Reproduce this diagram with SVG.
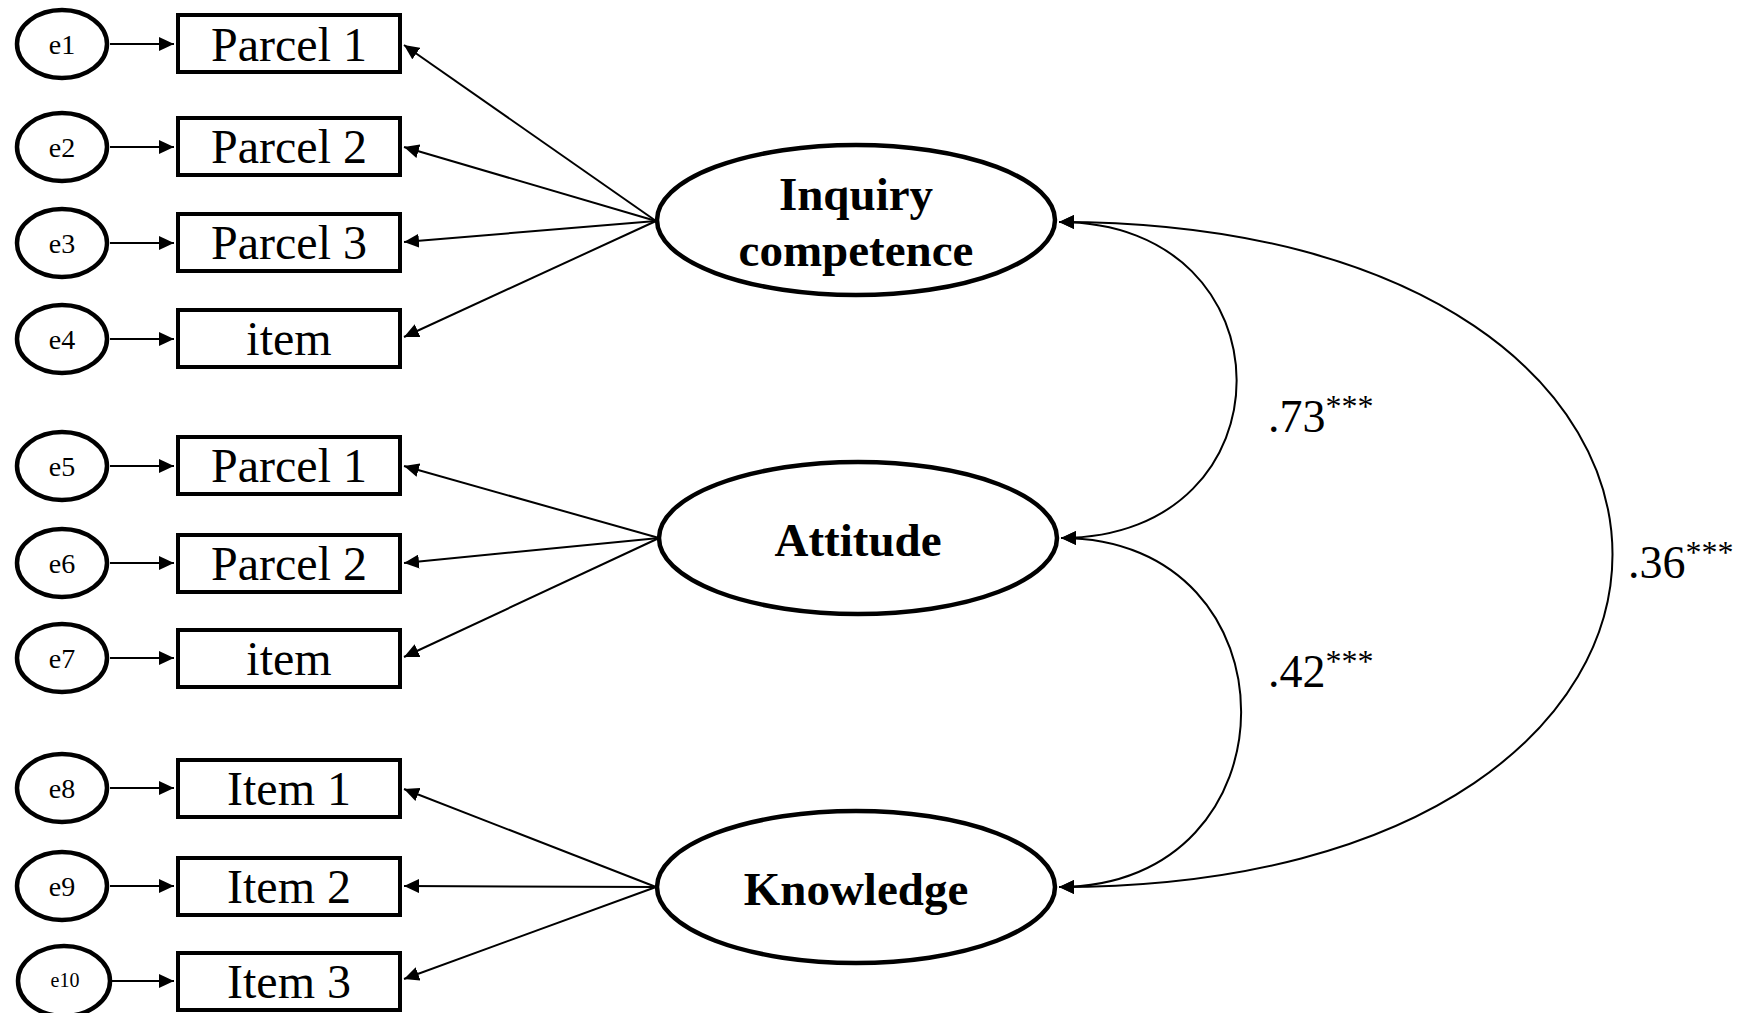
<svg xmlns="http://www.w3.org/2000/svg" width="1757" height="1013" viewBox="0 0 1757 1013">
<style>
.err{fill:#fff;stroke:#000;stroke-width:4.5}
.obs{fill:#fff;stroke:#000;stroke-width:4}
.lat{fill:#fff;stroke:#000;stroke-width:4.5}
.et{font-family:"Liberation Serif",serif;font-size:28px;text-anchor:middle;fill:#000}
.ot{font-family:"Liberation Serif",serif;font-size:48px;text-anchor:middle;fill:#000}
.lt{font-family:"Liberation Serif",serif;font-size:47px;font-weight:bold;text-anchor:middle;fill:#000}
.num{font-family:"Liberation Serif",serif;font-size:46px;fill:#000}
.sup{font-size:32px}
.ld{fill:none;stroke:#000;stroke-width:2;marker-end:url(#ah)}
.cv{fill:none;stroke:#000;stroke-width:2;marker-start:url(#ah);marker-end:url(#ah)}
</style>
<defs>
<marker id="ah" markerUnits="userSpaceOnUse" markerWidth="16" markerHeight="14" refX="15" refY="7" orient="auto-start-reverse">
<path d="M0,0 L15,7 L0,14 z" fill="#000"/>
</marker>
</defs>
<rect width="1757" height="1013" fill="#fff"/>
<g id="connectors">
<line class="ld" x1="110" y1="44" x2="174" y2="44"/>
<line class="ld" x1="110" y1="147" x2="174" y2="147"/>
<line class="ld" x1="110" y1="243" x2="174" y2="243"/>
<line class="ld" x1="110" y1="339" x2="174" y2="339"/>
<line class="ld" x1="110" y1="466" x2="174" y2="466"/>
<line class="ld" x1="110" y1="563" x2="174" y2="563"/>
<line class="ld" x1="110" y1="658" x2="174" y2="658"/>
<line class="ld" x1="110" y1="788" x2="174" y2="788"/>
<line class="ld" x1="110" y1="886" x2="174" y2="886"/>
<line class="ld" x1="110" y1="981" x2="174" y2="981"/>
<line class="ld" x1="656" y1="221" x2="404" y2="45"/>
<line class="ld" x1="656" y1="221" x2="404" y2="147"/>
<line class="ld" x1="656" y1="221" x2="404" y2="242"/>
<line class="ld" x1="656" y1="221" x2="404" y2="337"/>
<line class="ld" x1="659" y1="538" x2="404" y2="466"/>
<line class="ld" x1="659" y1="538" x2="404" y2="563"/>
<line class="ld" x1="659" y1="538" x2="404" y2="657"/>
<line class="ld" x1="656" y1="887" x2="404" y2="789"/>
<line class="ld" x1="656" y1="887" x2="404" y2="886"/>
<line class="ld" x1="656" y1="887" x2="404" y2="979"/>
<path class="cv" d="M1059,222 C1295,222 1296,538 1061,538"/>
<path class="cv" d="M1061,538 C1302,538 1301,887 1059,887"/>
<path class="cv" d="M1059,222 C1797,222 1797,887 1059,887"/>
</g>
<g id="e1"><ellipse class="err" cx="62" cy="44" rx="45" ry="34"/><text class="et" x="62" y="54">e1</text></g>
<g id="e2"><ellipse class="err" cx="62" cy="147" rx="45" ry="34"/><text class="et" x="62" y="157">e2</text></g>
<g id="e3"><ellipse class="err" cx="62" cy="243" rx="45" ry="34"/><text class="et" x="62" y="253">e3</text></g>
<g id="e4"><ellipse class="err" cx="62" cy="339" rx="45" ry="34"/><text class="et" x="62" y="349">e4</text></g>
<g id="e5"><ellipse class="err" cx="62" cy="466" rx="45" ry="34"/><text class="et" x="62" y="476">e5</text></g>
<g id="e6"><ellipse class="err" cx="62" cy="563" rx="45" ry="34"/><text class="et" x="62" y="573">e6</text></g>
<g id="e7"><ellipse class="err" cx="62" cy="658" rx="45" ry="34"/><text class="et" x="62" y="668">e7</text></g>
<g id="e8"><ellipse class="err" cx="62" cy="788" rx="45" ry="34"/><text class="et" x="62" y="798">e8</text></g>
<g id="e9"><ellipse class="err" cx="62" cy="886" rx="45" ry="34"/><text class="et" x="62" y="896">e9</text></g>
<g id="e10"><ellipse class="err" cx="64" cy="981" rx="46" ry="35"/><text class="et" x="65" y="987" style="font-size:20px">e10</text></g>
<g id="ic_p1"><rect class="obs" x="178" y="15" width="222" height="57"/><text class="ot" x="289" y="61">Parcel 1</text></g>
<g id="ic_p2"><rect class="obs" x="178" y="118" width="222" height="57"/><text class="ot" x="289" y="163">Parcel 2</text></g>
<g id="ic_p3"><rect class="obs" x="178" y="214" width="222" height="57"/><text class="ot" x="289" y="259">Parcel 3</text></g>
<g id="ic_item"><rect class="obs" x="178" y="310" width="222" height="57"/><text class="ot" x="289" y="355">item</text></g>
<g id="at_p1"><rect class="obs" x="178" y="437" width="222" height="57"/><text class="ot" x="289" y="482">Parcel 1</text></g>
<g id="at_p2"><rect class="obs" x="178" y="535" width="222" height="57"/><text class="ot" x="289" y="580">Parcel 2</text></g>
<g id="at_item"><rect class="obs" x="178" y="630" width="222" height="57"/><text class="ot" x="289" y="675">item</text></g>
<g id="kn_i1"><rect class="obs" x="178" y="760" width="222" height="57"/><text class="ot" x="289" y="805">Item 1</text></g>
<g id="kn_i2"><rect class="obs" x="178" y="858" width="222" height="57"/><text class="ot" x="289" y="903">Item 2</text></g>
<g id="kn_i3"><rect class="obs" x="178" y="953" width="222" height="57"/><text class="ot" x="289" y="998">Item 3</text></g>
<g id="inquiry"><ellipse class="lat" cx="856" cy="220" rx="199" ry="75"/><text class="lt" x="856" y="210">Inquiry</text><text class="lt" x="856" y="266">competence</text></g>
<g id="attitude"><ellipse class="lat" cx="858" cy="538" rx="199" ry="76"/><text class="lt" x="858" y="556">Attitude</text></g>
<g id="knowledge"><ellipse class="lat" cx="856" cy="887" rx="199" ry="76"/><text class="lt" x="856" y="905">Knowledge</text></g>
<g id="labels">
<text class="num" x="1268" y="432">.73<tspan class="sup" dy="-15">***</tspan></text>
<text class="num" x="1268" y="687">.42<tspan class="sup" dy="-15">***</tspan></text>
<text class="num" x="1628" y="578">.36<tspan class="sup" dy="-15">***</tspan></text>
</g>
</svg>
